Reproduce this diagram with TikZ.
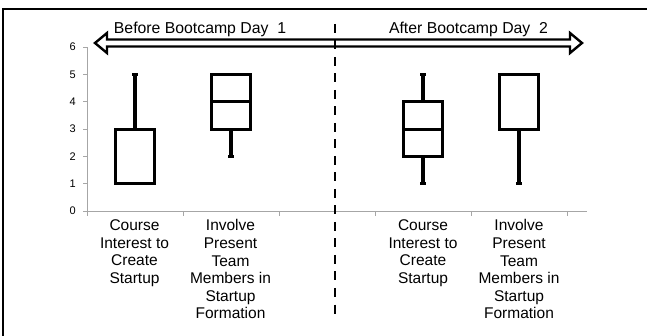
\documentclass[tikz,border=0pt]{standalone}
\usepackage{fontspec}
\setmainfont{Liberation Sans}
\begin{document}
\begin{tikzpicture}[x=1pt,y=-1pt,
  frameline/.style={line width=2pt,black},
  axisline/.style={line width=0.8pt,gray!70},
  boxline/.style={line width=3pt,black},
  whisker/.style={line width=3.2pt,black},
  capmark/.style={fill=black,minimum width=5.5pt,minimum height=3pt,inner sep=0pt,outer sep=0pt},
  ticklabel/.style={font=\fontsize{11}{13}\selectfont,anchor=east,inner sep=0pt},
  catlabel/.style={font=\fontsize{15.5}{17.6}\selectfont,align=center,anchor=north,inner sep=0pt},
  phaselabel/.style={font=\fontsize{15.8}{18}\selectfont,inner sep=0pt},
  phasearrow/.style={line width=2.4pt,black,line join=miter},
  divider/.style={line width=2.6pt,black,dash pattern=on 9pt off 7.5pt}]
\useasboundingbox (0,0) rectangle (647,336);

% outer frame (top and left edges)
\draw[frameline] (3,336) -- (3,9) -- (647,9);

% chart area: data value v sits at pixel row 211 - 27.33 v
\begin{scope}[shift={(0,211)},y=27.33pt]
  % axes
  \draw[axisline] (87,0) -- (87,6);
  \draw[axisline] (87,0) -- (587,0);
  \foreach \v in {0,...,6} {
    \draw[axisline] (83,\v) -- (87,\v);
    \node[ticklabel] (t\v) at (76,\v) {\v};
  }
  \foreach \x in {87,183,279,375,471,567}
    \draw[axisline] (\x,0) -- (\x,-0.18);

  % box 1: Course Interest (before)
  \draw[whisker] (135,3) -- (135,5);
  \node[capmark] (c1) at (135,5) {};
  \draw[boxline,fill=white] (115.5,1) rectangle (154.5,3);

  % box 2: Involve Team Members (before)
  \draw[whisker] (231,2) -- (231,3);
  \node[capmark] (c2) at (231,2) {};
  \draw[boxline,fill=white] (211.5,3) rectangle (250.5,5);
  \draw[boxline] (211.5,4) -- (250.5,4);

  % box 3: Course Interest (after)
  \draw[whisker] (423,1) -- (423,5);
  \node[capmark] (c3a) at (423,1) {};
  \node[capmark] (c3b) at (423,5) {};
  \draw[boxline,fill=white] (403.5,2) rectangle (442.5,4);
  \draw[boxline] (403.5,3) -- (442.5,3);

  % box 4: Involve Team Members (after)
  \draw[whisker] (519,1) -- (519,3);
  \node[capmark] (c4) at (519,1) {};
  \draw[boxline,fill=white] (499.5,3) rectangle (538.5,5);
\end{scope}

% category labels
\node[catlabel] (l1) at (134.5,219.5) {Course\\Interest to\\Create\\Startup};
\node[catlabel] (l2) at (230.5,219.5) {Involve\\Present\\Team\\Members in\\Startup\\Formation};
\node[catlabel] (l3) at (423,219.5) {Course\\Interest to\\Create\\Startup};
\node[catlabel] (l4) at (519,219.5) {Involve\\Present\\Team\\Members in\\Startup\\Formation};

% double-headed phase arrow
\draw[phasearrow,fill=white] (95,43) -- (107,33) -- (107,39.5) -- (570,39.5) -- (570,33)
  -- (582,43) -- (570,53) -- (570,46.5) -- (107,46.5) -- (107,53) -- cycle;

% phase labels
\node[phaselabel] (before) at (200,29) {Before Bootcamp Day\ \ 1};
\node[phaselabel] (after) at (468.5,29) {After Bootcamp Day\ \ 2};

% dividing line between the two phases
\coordinate (dtop) at (335,24);
\coordinate (dbot) at (335,318);
\draw[divider] (dtop) -- (dbot);
\end{tikzpicture}
\end{document}
